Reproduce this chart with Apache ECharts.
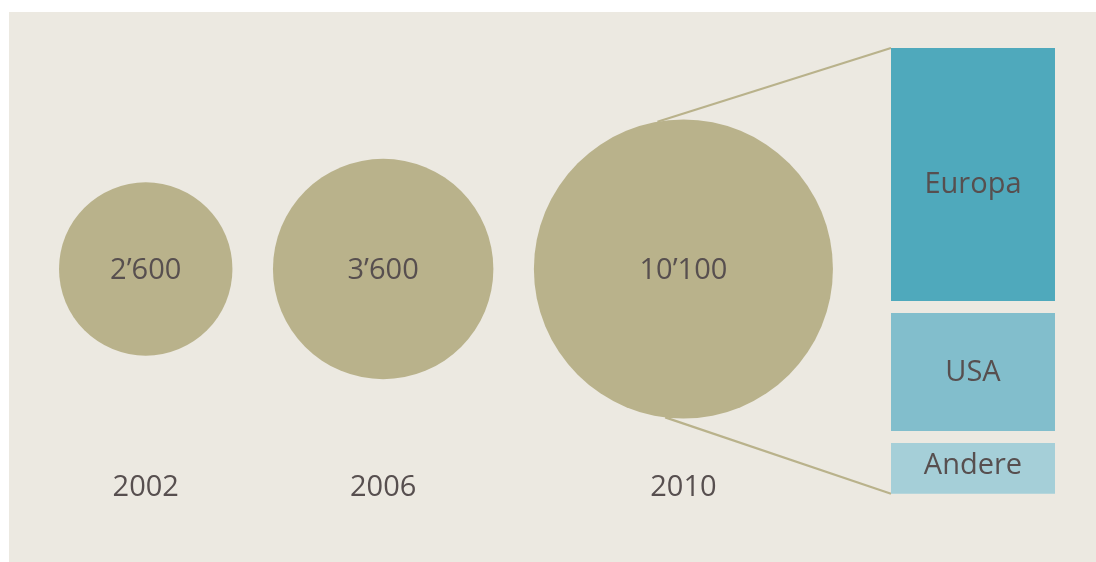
<!DOCTYPE html>
<html>
<head>
<meta charset="utf-8">
<script src="https://cdn.jsdelivr.net/npm/echarts@6/dist/echarts.min.js"></script>
<style>
  html, body { margin: 0; padding: 0; background: #ffffff; }
  #chart { width: 1096px; height: 562px; }
</style>
</head>
<body>
<div id="chart"></div>
<script>
// Total volume per survey year
const years = ['2002', '2006', '2010'];
const totals = [2600, 3600, 10100];

// Regional split of the latest year (share in %)
const regions = ['Europa', 'USA', 'Andere'];
const regionShares = [60, 28, 12];

// ---- styling / layout ----
const W = 1096, H = 562;
const FONT = 'Open Sans';
const FONT_SIZE = 29;
const TEXT_COLOR = '#574F4F';
const PANEL_COLOR = '#ECE9E1';
const BUBBLE_COLOR = '#B9B28B';
const REGION_COLORS = ['#4FA9BC', '#82BECC', '#A5CFD8'];
const REGION_LABEL_SHIFT = [10, 1, -3];
const BUBBLE_ROW = 269;      // vertical centre of the bubbles
const YEAR_ROW = 488;        // vertical centre of the year captions
const FIRST_LEFT = 59;       // left edge of the first bubble
const BUBBLE_GAP = 40.5;     // space between neighbouring bubbles
const STACK = { left: 891, top: 48, width: 164, height: 421.7 };
const STACK_GAP = 12;

// bubble diameter grows with the total, flattening for large values
const diameter = v => 342.6 - 439800 / v;

// Swiss-style thousands separator: 10’100
const fmt = v => String(v).replace(/\B(?=(\d{3})+(?!\d))/g, '\u2019');

// place bubbles side by side, left to right
const bubbleX = [];
let cursor = FIRST_LEFT;
totals.forEach(v => {
  const d = diameter(v);
  bubbleX.push(cursor + d / 2);
  cursor += d + BUBBLE_GAP;
});

const bubbleData = totals.map((v, i) => [bubbleX[i], BUBBLE_ROW, v]);
const yearData = years.map((y, i) => [bubbleX[i], YEAR_ROW, y]);

// cumulative segments of the regional stack
const segData = [];
let acc = 0;
regionShares.forEach((s, i) => {
  segData.push([0, acc, acc + s, i]);
  acc += s;
});

const chart = echarts.init(document.getElementById('chart'), null, { renderer: 'canvas' });

const labelFont = {
  fontFamily: FONT, fontSize: FONT_SIZE, color: TEXT_COLOR,
  textBorderWidth: 0, opacity: 1
};

const option = {
  animation: false,
  backgroundColor: '#ffffff',
  graphic: [{
    type: 'rect', z: -10, silent: true,
    shape: { x: 9, y: 12, width: W - 9, height: H - 12 },
    style: { fill: PANEL_COLOR }
  }],
  grid: [
    { left: 0, top: 0, width: W, height: H },
    { left: STACK.left, top: STACK.top, width: STACK.width, height: STACK.height }
  ],
  xAxis: [
    { type: 'value', gridIndex: 0, min: 0, max: W, show: false },
    { type: 'category', gridIndex: 1, data: ['2010'], show: false }
  ],
  yAxis: [
    { type: 'value', gridIndex: 0, min: 0, max: H, inverse: true, show: false },
    { type: 'value', gridIndex: 1, min: 0, max: 100, inverse: true, show: false }
  ],
  series: [
    {
      id: 'connectors',
      type: 'lines',
      coordinateSystem: 'cartesian2d',
      xAxisIndex: 0, yAxisIndex: 0,
      z: 1, silent: true,
      lineStyle: { color: BUBBLE_COLOR, width: 2.2, opacity: 1, curveness: 0 },
      data: []
    },
    {
      type: 'scatter',
      xAxisIndex: 0, yAxisIndex: 0,
      z: 3, silent: true,
      data: bubbleData,
      symbol: 'circle',
      symbolSize: val => diameter(val[2]),
      itemStyle: { color: BUBBLE_COLOR, opacity: 1 },
      label: {
        show: true, position: 'inside', offset: [0, 2],
        formatter: p => fmt(p.value[2]),
        ...labelFont
      }
    },
    {
      type: 'scatter',
      xAxisIndex: 0, yAxisIndex: 0,
      z: 3, silent: true,
      data: yearData,
      symbol: 'circle',
      symbolSize: 1,
      itemStyle: { color: PANEL_COLOR, opacity: 1 },
      label: {
        show: true, position: 'inside',
        formatter: p => p.value[2],
        ...labelFont
      }
    },
    {
      type: 'custom',
      xAxisIndex: 1, yAxisIndex: 1,
      z: 3, silent: true,
      data: segData,
      renderItem: (params, api) => {
        const i = api.value(3);
        const p0 = api.coord([api.value(0), api.value(1)]);
        const p1 = api.coord([api.value(0), api.value(2)]);
        const bw = api.size([1, 0])[0];
        const x = p0[0] - bw / 2;
        const y = p0[1] + i * STACK_GAP;
        const h = p1[1] - p0[1];
        return {
          type: 'group',
          children: [
            { type: 'rect', shape: { x: x, y: y, width: bw, height: h },
              style: { fill: REGION_COLORS[i] } },
            { type: 'text',
              style: {
                x: x + bw / 2, y: y + h / 2 + REGION_LABEL_SHIFT[i],
                text: regions[i], align: 'center', verticalAlign: 'middle',
                font: FONT_SIZE + 'px "' + FONT + '"', fill: TEXT_COLOR
              } }
          ]
        };
      }
    }
  ]
};

chart.setOption(option);

// connectors from the latest bubble to the top and bottom of the regional stack
const lastIdx = totals.length - 1;
const c = chart.convertToPixel({ gridIndex: 0 }, [bubbleX[lastIdx], BUBBLE_ROW]);
const r = diameter(totals[lastIdx]) / 2;
const stackTop = chart.convertToPixel({ yAxisIndex: 1 }, 0);
const stackBottom = chart.convertToPixel({ yAxisIndex: 1 }, acc) + STACK_GAP * (regions.length - 1);
const onCircle = deg => {
  const a = deg * Math.PI / 180;
  return chart.convertFromPixel({ gridIndex: 0 }, [c[0] + r * Math.cos(a), c[1] + r * Math.sin(a)]);
};
const toData = (px, py) => chart.convertFromPixel({ gridIndex: 0 }, [px, py]);

chart.setOption({
  series: [{
    id: 'connectors',
    data: [
      { coords: [onCircle(-100), toData(STACK.left, stackTop)] },
      { coords: [onCircle(97), toData(STACK.left, stackBottom)] }
    ]
  }]
});
</script>
</body>
</html>
